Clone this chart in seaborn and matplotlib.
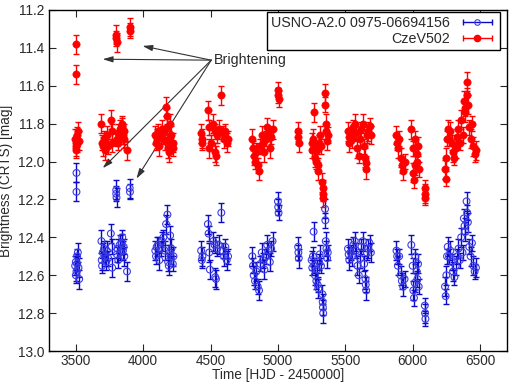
import numpy as np
import pandas as pd
import matplotlib
matplotlib.use('Agg')
import matplotlib.pyplot as plt
from matplotlib.lines import Line2D
from matplotlib.legend_handler import HandlerLine2D, HandlerTuple
import seaborn as sns

# CzeV502 (red)
red_t = [3505, 3505, 3495, 3500, 3505, 3510, 3515, 3500, 3520, 3510,
         3690, 3695, 3700, 3710, 3715, 3725, 3730, 3740, 3760, 3765, 3770, 3800, 3800, 3802,
         3805, 3810, 3815, 3825, 3830, 3840, 3845, 3850, 3855, 3860, 3880, 3900, 3902,
         4090, 4095, 4100, 4110, 4120, 4130, 4140, 4150, 4160, 4170, 4175, 4180, 4185, 4190,
         4195, 4200, 4205, 4210, 4220, 4225,
         4430, 4435, 4440, 4480, 4485, 4490, 4500, 4520, 4530, 4535, 4540, 4550, 4560, 4580,
         4590, 4600, 4610, 4620, 4630,
         4810, 4815, 4820, 4830, 4840, 4850, 4860, 4870, 4880, 4890, 4900, 4910, 4920, 4930,
         4940, 4950, 4960, 5000, 5002, 5005,
         5150, 5152, 5155,
         5250, 5255, 5260, 5265, 5270, 5275, 5285, 5290, 5295, 5300, 5305, 5310, 5320, 5330,
         5332, 5334, 5336, 5350, 5352, 5355, 5360, 5365, 5370,
         5520, 5525, 5530, 5540, 5550, 5560, 5570, 5580, 5590, 5600, 5610, 5620, 5630, 5640,
         5650, 5652, 5655, 5660, 5670, 5680, 5690,
         5880, 5885, 5890, 5900, 5910, 5920, 5930, 5940, 5990, 6000, 6005, 6010, 6015, 6020,
         6030, 6035, 6040, 6045, 6090, 6092, 6095,
         6240, 6245, 6250, 6255, 6260, 6270, 6280, 6290, 6300, 6310, 6320, 6330, 6340, 6350,
         6360, 6370, 6380, 6385, 6390, 6400, 6405, 6410, 6420, 6430, 6440, 6450, 6460, 6470]
red_mag = [11.38, 11.54, 11.88, 11.90, 11.92, 11.86, 11.84, 11.94, 11.89, 11.91,
           11.80, 11.90, 11.92, 11.88, 11.94, 11.90, 11.86, 11.92, 11.78, 11.84, 11.90, 11.33, 11.35, 11.37,
           11.88, 11.85, 11.90, 11.83, 11.87, 11.82, 11.80, 11.86, 11.84, 11.88, 11.94, 11.29, 11.31,
           11.86, 11.90, 11.88, 11.84, 11.92, 11.87, 11.83, 11.85, 11.89, 11.71, 11.76, 11.82, 11.93, 11.95,
           11.88, 11.80, 11.91, 11.86, 11.93, 11.90,
           11.85, 11.90, 11.88, 11.73, 11.82, 11.93, 11.90, 11.80, 11.84, 11.95, 11.97, 11.86, 11.83, 11.65,
           11.85, 11.88, 11.84, 11.90, 11.88,
           11.88, 11.93, 11.97, 12.00, 11.95, 12.02, 12.05, 11.92, 11.86, 11.90, 11.95, 11.88, 11.82, 11.85,
           11.93, 11.87, 11.83, 11.62, 11.65, 11.67,
           11.84, 11.87, 11.90,
           11.90, 11.94, 11.88, 11.74, 11.93, 11.98, 12.00, 11.94, 12.02, 12.05, 11.90, 11.86, 11.92, 12.11,
           12.14, 12.17, 12.19, 11.64, 11.70, 11.80, 11.84, 11.89, 11.86,
           11.84, 11.87, 11.90, 11.86, 11.88, 11.82, 11.80, 11.85, 11.93, 11.97, 11.88, 11.83, 11.80, 11.92,
           11.98, 12.01, 12.04, 11.86, 11.84, 11.81, 11.86,
           11.86, 11.90, 11.93, 11.88, 11.98, 12.02, 12.05, 12.00, 11.83, 11.93, 12.06, 12.10, 12.02, 11.88,
           11.96, 12.00, 11.92, 12.04, 12.14, 12.17, 12.19,
           12.04, 12.09, 11.98, 11.88, 11.83, 11.88, 11.84, 11.90, 11.95, 11.98, 11.93, 11.87, 11.83, 11.90,
           11.78, 11.86, 11.68, 11.72, 11.74, 11.58, 11.65, 11.70, 11.82, 11.88, 11.80, 11.92, 11.96, 11.94]
red_err = [0.05, 0.05, 0.05, 0.04, 0.05, 0.04, 0.05, 0.04, 0.05, 0.04,
           0.05, 0.04, 0.05, 0.04, 0.05, 0.04, 0.05, 0.04, 0.05, 0.04, 0.05, 0.05, 0.04, 0.05,
           0.04, 0.05, 0.04, 0.05, 0.04, 0.05, 0.04, 0.05, 0.04, 0.05, 0.05, 0.05, 0.04,
           0.05, 0.04, 0.05, 0.04, 0.05, 0.04, 0.05, 0.04, 0.05, 0.05, 0.04, 0.05, 0.05, 0.05,
           0.04, 0.05, 0.04, 0.05, 0.04, 0.05,
           0.05, 0.04, 0.05, 0.05, 0.04, 0.05, 0.04, 0.05, 0.04, 0.05, 0.05, 0.04, 0.05, 0.05,
           0.04, 0.05, 0.04, 0.05, 0.04,
           0.05, 0.04, 0.05, 0.04, 0.05, 0.04, 0.05, 0.04, 0.05, 0.04, 0.05, 0.04, 0.05, 0.04,
           0.05, 0.04, 0.05, 0.04, 0.04, 0.04,
           0.05, 0.04, 0.05,
           0.05, 0.04, 0.05, 0.05, 0.04, 0.05, 0.04, 0.05, 0.04, 0.05, 0.04, 0.05, 0.04, 0.05,
           0.04, 0.04, 0.05, 0.05, 0.04, 0.05, 0.04, 0.05, 0.04,
           0.05, 0.04, 0.05, 0.04, 0.05, 0.04, 0.05, 0.04, 0.05, 0.04, 0.05, 0.04, 0.05, 0.04,
           0.05, 0.04, 0.05, 0.04, 0.05, 0.04, 0.05,
           0.05, 0.04, 0.05, 0.04, 0.05, 0.04, 0.05, 0.04, 0.05, 0.04, 0.05, 0.04, 0.05, 0.04,
           0.05, 0.04, 0.05, 0.04, 0.04, 0.05, 0.04,
           0.05, 0.04, 0.05, 0.04, 0.05, 0.04, 0.05, 0.04, 0.05, 0.04, 0.05, 0.04, 0.05, 0.04,
           0.05, 0.04, 0.05, 0.04, 0.05, 0.05, 0.04, 0.05, 0.04, 0.05, 0.04, 0.05, 0.04, 0.05]

# USNO-A2.0 0975-06694156 (blue)
blue_t = [3505, 3505, 3495, 3500, 3505, 3510, 3515, 3500, 3520, 3525, 3510,
          3690, 3692, 3695, 3700, 3710, 3715, 3725, 3730, 3740, 3760, 3765, 3770, 3800, 3800, 3802,
          3805, 3810, 3815, 3825, 3830, 3840, 3845, 3850, 3855, 3860, 3880, 3900, 3902,
          4090, 4095, 4100, 4110, 4120, 4130, 4140, 4150, 4160, 4170, 4180, 4185, 4190, 4195,
          4200, 4205, 4210, 4220, 4225,
          4430, 4435, 4440, 4480, 4485, 4490, 4495, 4520, 4530, 4535, 4540, 4550, 4560, 4580,
          4590, 4600, 4610, 4620, 4630,
          4810, 4815, 4820, 4830, 4840, 4850, 4860, 4870, 4880, 4890, 4900, 4910, 4920, 4930,
          4940, 4950, 4960, 5000, 5002, 5005,
          5150, 5152, 5155,
          5250, 5255, 5260, 5265, 5270, 5275, 5285, 5290, 5295, 5300, 5305, 5310, 5320, 5330,
          5332, 5334, 5336, 5350, 5352, 5355, 5360, 5365, 5370,
          5520, 5525, 5530, 5540, 5550, 5560, 5570, 5580, 5590, 5600, 5610, 5620, 5630, 5640,
          5650, 5652, 5655, 5660, 5670, 5680, 5690,
          5880, 5885, 5890, 5900, 5910, 5920, 5930, 5940, 5990, 6000, 6005, 6010, 6015, 6020,
          6030, 6035, 6040, 6045, 6090, 6092, 6095,
          6240, 6245, 6250, 6255, 6260, 6270, 6280, 6290, 6300, 6310, 6320, 6330, 6340, 6350,
          6360, 6370, 6380, 6385, 6390, 6400, 6405, 6410, 6420, 6430, 6440, 6450, 6460, 6470]
blue_mag = [12.06, 12.16, 12.55, 12.53, 12.58, 12.50, 12.48, 12.60, 12.56, 12.62, 12.54,
            12.42, 12.52, 12.55, 12.48, 12.46, 12.50, 12.53, 12.47, 12.51, 12.38, 12.45, 12.56, 12.15, 12.17, 12.19,
            12.49, 12.46, 12.52, 12.44, 12.48, 12.43, 12.40, 12.47, 12.45, 12.50, 12.58, 12.14, 12.16,
            12.47, 12.50, 12.45, 12.44, 12.52, 12.46, 12.42, 12.40, 12.47, 12.33, 12.28, 12.53, 12.55, 12.48,
            12.39, 12.50, 12.46, 12.54, 12.50,
            12.47, 12.52, 12.50, 12.33, 12.38, 12.48, 12.57, 12.42, 12.44, 12.61, 12.62, 12.46, 12.44, 12.27,
            12.47, 12.50, 12.45, 12.52, 12.50,
            12.50, 12.55, 12.60, 12.63, 12.58, 12.66, 12.68, 12.54, 12.48, 12.52, 12.57, 12.50, 12.44, 12.47,
            12.53, 12.46, 12.42, 12.21, 12.24, 12.27,
            12.45, 12.48, 12.51,
            12.52, 12.56, 12.50, 12.37, 12.55, 12.60, 12.63, 12.57, 12.65, 12.67, 12.53, 12.49, 12.55, 12.70,
            12.74, 12.77, 12.80, 12.25, 12.31, 12.42, 12.46, 12.51, 12.48,
            12.46, 12.49, 12.52, 12.48, 12.50, 12.44, 12.42, 12.47, 12.55, 12.60, 12.51, 12.45, 12.42, 12.54,
            12.62, 12.65, 12.68, 12.48, 12.46, 12.43, 12.48,
            12.47, 12.50, 12.55, 12.50, 12.60, 12.63, 12.66, 12.62, 12.44, 12.55, 12.68, 12.72, 12.64, 12.50,
            12.58, 12.62, 12.54, 12.66, 12.76, 12.80, 12.83,
            12.66, 12.71, 12.60, 12.50, 12.45, 12.50, 12.47, 12.53, 12.58, 12.61, 12.55, 12.50, 12.46, 12.52,
            12.40, 12.48, 12.30, 12.34, 12.37, 12.21, 12.27, 12.32, 12.45, 12.50, 12.43, 12.55, 12.58, 12.56]
blue_err = [0.05, 0.05, 0.05, 0.04, 0.05, 0.04, 0.05, 0.04, 0.05, 0.05, 0.04,
            0.06, 0.05, 0.04, 0.05, 0.04, 0.05, 0.04, 0.05, 0.04, 0.05, 0.04, 0.05, 0.05, 0.04, 0.05,
            0.04, 0.05, 0.04, 0.05, 0.04, 0.05, 0.04, 0.05, 0.04, 0.05, 0.05, 0.05, 0.04,
            0.05, 0.04, 0.05, 0.04, 0.05, 0.04, 0.05, 0.04, 0.05, 0.05, 0.05, 0.05, 0.05, 0.04,
            0.05, 0.04, 0.05, 0.04, 0.05,
            0.05, 0.04, 0.05, 0.05, 0.04, 0.05, 0.05, 0.05, 0.04, 0.05, 0.05, 0.04, 0.05, 0.05,
            0.04, 0.05, 0.04, 0.05, 0.04,
            0.05, 0.04, 0.05, 0.04, 0.05, 0.04, 0.05, 0.04, 0.05, 0.04, 0.05, 0.04, 0.05, 0.04,
            0.05, 0.04, 0.05, 0.05, 0.04, 0.04,
            0.05, 0.04, 0.05,
            0.05, 0.04, 0.05, 0.05, 0.04, 0.05, 0.04, 0.05, 0.04, 0.05, 0.04, 0.05, 0.04, 0.05,
            0.04, 0.04, 0.05, 0.05, 0.04, 0.05, 0.04, 0.05, 0.04,
            0.05, 0.04, 0.05, 0.04, 0.05, 0.04, 0.05, 0.04, 0.05, 0.04, 0.05, 0.04, 0.05, 0.04,
            0.05, 0.04, 0.05, 0.04, 0.05, 0.04, 0.05,
            0.05, 0.04, 0.05, 0.04, 0.05, 0.04, 0.05, 0.04, 0.05, 0.04, 0.05, 0.04, 0.05, 0.04,
            0.05, 0.04, 0.05, 0.04, 0.04, 0.05, 0.04,
            0.05, 0.04, 0.05, 0.04, 0.05, 0.04, 0.05, 0.04, 0.05, 0.04, 0.05, 0.04, 0.05, 0.04,
            0.05, 0.04, 0.05, 0.04, 0.05, 0.05, 0.04, 0.05, 0.04, 0.05, 0.04, 0.05, 0.04, 0.05]

blue_name = 'USNO-A2.0 0975-06694156'
red_name = 'CzeV502'
arrow_text = 'Brightening'
arrow_from = (4505, 11.465)
arrow_to = [(3700, 11.46), (3995, 11.39), (3700, 12.035), (3950, 12.09)]

sns.set_theme(style='ticks')
plt.rcParams['font.family'] = ['Liberation Sans', 'DejaVu Sans']
plt.rcParams['xtick.direction'] = 'in'
plt.rcParams['ytick.direction'] = 'in'

df_red = pd.DataFrame({'t': red_t, 'mag': red_mag, 'err': red_err})
df_blue = pd.DataFrame({'t': blue_t, 'mag': blue_mag, 'err': blue_err})

RED = '#ff0000'
BLUE = '#0a0ac8'
TXT = '#2a2a2a'
FS = 9.8

fig = plt.figure(figsize=(5.09, 3.82), dpi=100)
ax = fig.add_axes([0.096, 0.081, 0.900, 0.893])

ax.errorbar(df_blue['t'], df_blue['mag'], yerr=df_blue['err'], fmt='none',
            ecolor=BLUE, elinewidth=1.0, capsize=2.2, capthick=1.0, zorder=2)
sns.scatterplot(ax=ax, data=df_blue, x='t', y='mag', marker='o', s=24,
                facecolor='none', edgecolor='#3c3ce6', linewidth=0.8, zorder=3, legend=False)

ax.errorbar(df_red['t'], df_red['mag'], yerr=df_red['err'], fmt='none',
            ecolor=RED, elinewidth=1.0, capsize=2.2, capthick=1.0, zorder=4)
sns.scatterplot(ax=ax, data=df_red, x='t', y='mag', marker='o', s=28,
                color=RED, edgecolor=RED, linewidth=0.4, zorder=5, legend=False)

ax.set_xlim(3300, 6700)
ax.set_ylim(13.0, 11.2)
ax.set_xticks([3500, 4000, 4500, 5000, 5500, 6000, 6500])
ax.set_yticks(np.arange(11.2, 13.01, 0.2))
ax.yaxis.set_major_formatter(matplotlib.ticker.FormatStrFormatter('%.1f'))
ax.tick_params(axis='both', which='major', length=5, width=0.8, labelsize=FS,
               labelcolor=TXT, top=True, right=True)
ax.tick_params(axis='x', pad=2)
ax.tick_params(axis='y', pad=3)
for sp in ax.spines.values():
    sp.set_linewidth(1.0)
    sp.set_color('black')
    sp.set_visible(True)

ax.set_xlabel('Time [HJD - 2450000]', fontsize=FS, color=TXT, labelpad=0)
ax.set_ylabel('Brightness (CRTS) [mag]', fontsize=FS, color=TXT, labelpad=4)

ax.text(arrow_from[0] + 20, arrow_from[1], arrow_text, fontsize=10.3, color=TXT,
        ha='left', va='center')
for tgt in arrow_to:
    ax.annotate('', xy=tgt, xytext=arrow_from,
                arrowprops=dict(arrowstyle='-|>,head_length=0.5,head_width=0.15',
                                color='#333333', lw=0.8, shrinkA=0, shrinkB=0))

# legend: label then |--o--| handle
cap_b = Line2D([], [], color=BLUE, lw=1.0, marker='|', markersize=5, markeredgewidth=1.0)
dot_b = Line2D([], [], color=BLUE, lw=0, marker='o', markersize=4, markerfacecolor='none',
               markeredgecolor='#3c3ce6', markeredgewidth=0.8)
cap_r = Line2D([], [], color=RED, lw=1.0, marker='|', markersize=5, markeredgewidth=1.0)
dot_r = Line2D([], [], color=RED, lw=0, marker='o', markersize=4.5, markerfacecolor=RED,
               markeredgecolor=RED)
hmap = {dot_b: HandlerLine2D(numpoints=1), dot_r: HandlerLine2D(numpoints=1),
        tuple: HandlerTuple(ndivide=1)}
leg = ax.legend([(cap_b, dot_b), (cap_r, dot_r)], [blue_name, red_name],
                handler_map=hmap, numpoints=2, loc='upper right',
                bbox_to_anchor=(0.985, 0.994), borderaxespad=0, markerfirst=False,
                fontsize=10.3, frameon=True, fancybox=False, framealpha=1,
                edgecolor='black', handlelength=2.6,
                handletextpad=0.6, labelspacing=0.1, borderpad=0.3)
leg.get_frame().set_linewidth(1.0)
for txt in leg.get_texts():
    txt.set_color(TXT)

fig.savefig('out.png', dpi=100)
